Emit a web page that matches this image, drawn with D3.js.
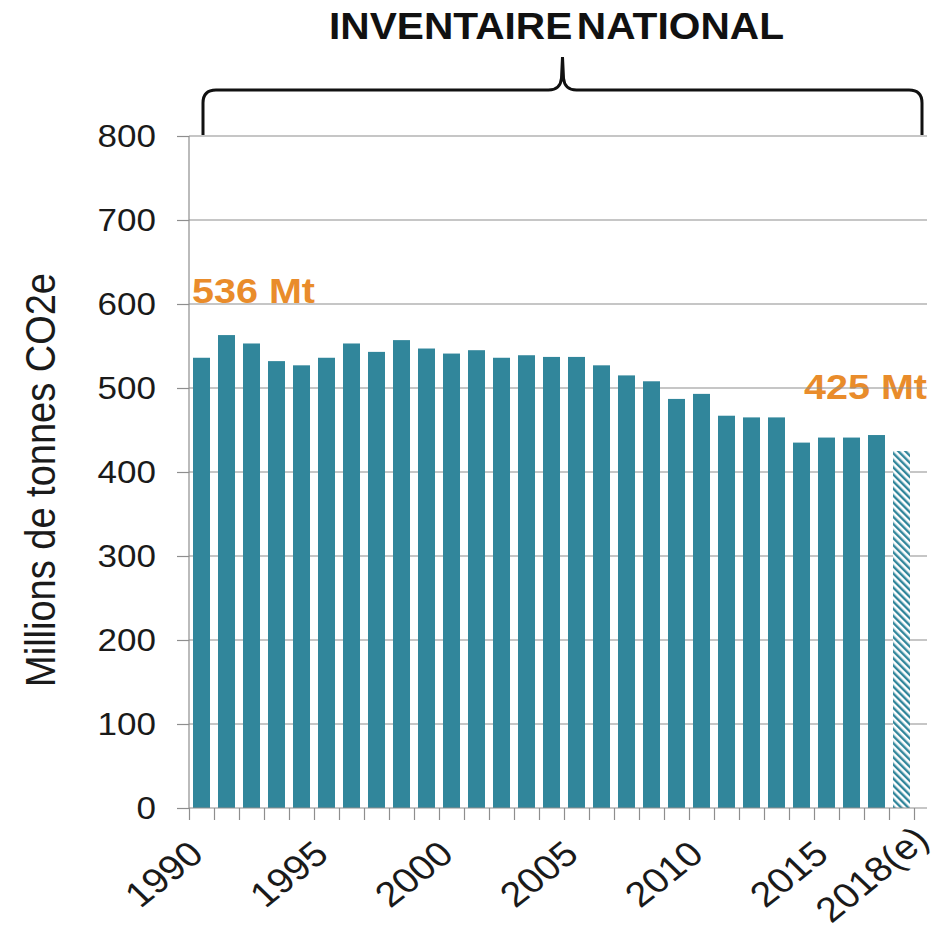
<!DOCTYPE html>
<html>
<head>
<meta charset="utf-8">
<script src="https://cdn.jsdelivr.net/npm/d3@7"></script>
<style>
  body { margin: 0; background: #fff; }
  text { font-family: "Liberation Sans", Arial, sans-serif; }
</style>
</head>
<body>
<svg id="chart"></svg>
<script>
// data
const years = d3.range(1990, 2019);
const values = [536, 563, 553, 532, 527, 536, 553, 543, 557, 547, 541, 545, 536, 539, 537,
                537, 527, 515, 508, 487, 493, 467, 465, 465, 435, 441, 441, 444, 425];
const labelYears = [1990, 1995, 2000, 2005, 2010, 2015, 2018];
const labelText = ["1990", "1995", "2000", "2005", "2010", "2015", "2018(e)"];
const yTicks = [0, 100, 200, 300, 400, 500, 600, 700, 800];
const callouts = [{ year: 1990, text: "536 Mt" }, { year: 2018, text: "425 Mt" }];

const w = 940, h = 933;
const sx = 1.13; // text in the picture is a bit stretched horizontally

const svg = d3.select('#chart')
              .attr('width', w)
              .attr('height', h);

// scales
const x = d3.scaleBand()
            .domain(years)
            .range([189, 914])
            .paddingInner(0.32)
            .paddingOuter(0.16);
const y = d3.scaleLinear()
            .domain([0, 800])
            .range([808, 136]);
const tickPos = d3.scaleLinear()
            .domain([0, years.length])
            .range([189, 914]);

const teal = '#31869b';
const orange = '#e98c2b';
const grey = '#8e8e8e';

// hatch for estimated year
const defs = svg.append('defs');
const pat = defs.append('pattern')
    .attr('id', 'hatch')
    .attr('patternUnits', 'userSpaceOnUse')
    .attr('width', 5).attr('height', 5)
    .attr('patternTransform', 'rotate(-45)');
pat.append('rect').attr('width', 5).attr('height', 5).attr('fill', '#fff');
pat.append('rect').attr('width', 2.4).attr('height', 5).attr('fill', teal);

// callout labels (gridlines pass over them)
svg.selectAll('.callout')
   .data(callouts)
   .join('text')
     .attr('class', 'callout')
     .attr('transform', (d, i) => i === 0
        ? `translate(${x(d.year) - 1},303) scale(${sx},1)`
        : `translate(${x(d.year) + x.bandwidth() + 17},399) scale(${sx},1)`)
     .attr('text-anchor', (d, i) => i === 0 ? 'start' : 'end')
     .attr('font-size', 35)
     .attr('font-weight', 'bold')
     .attr('fill', orange)
     .text(d => d.text);

// gridlines
svg.append('g')
   .selectAll('line')
   .data(yTicks.filter(v => v > 0))
   .join('line')
     .attr('x1', 189).attr('x2', 927)
     .attr('y1', d => y(d)).attr('y2', d => y(d))
     .attr('stroke', grey).attr('stroke-width', 1.2);

// bars
svg.selectAll('.bar')
   .data(values)
   .join('rect')
     .attr('class', 'bar')
     .attr('x', (v, i) => x(years[i]))
     .attr('y', v => y(v))
     .attr('width', x.bandwidth())
     .attr('height', v => y(0) - y(v))
     .attr('fill', (v, i) => i === values.length - 1 ? 'url(#hatch)' : teal);

// y axis
const yAxis = d3.axisLeft(y).tickValues(yTicks).tickSize(12).tickFormat('');
const gy = svg.append('g').attr('transform', 'translate(189,0)').call(yAxis);
gy.selectAll('line, path').attr('stroke', grey).attr('stroke-width', 1.2);
gy.select('.domain').attr('d', `M0,${y(800)}V${y(0)}`);

svg.append('g')
   .selectAll('text')
   .data(yTicks)
   .join('text')
     .attr('transform', d => `translate(156,${y(d) + 11}) scale(${sx},1)`)
     .attr('text-anchor', 'end')
     .attr('font-size', 31)
     .attr('fill', '#1a1a1a')
     .text(d => d);

// x axis
const xAxis = d3.axisBottom(tickPos).tickValues(d3.range(years.length + 1))
                .tickSize(12).tickFormat('');
const gx = svg.append('g').attr('transform', `translate(0,${y(0)})`).call(xAxis);
gx.selectAll('line, path').attr('stroke', grey).attr('stroke-width', 1.2);
gx.select('.domain').attr('d', 'M189,0H927');

// the estimate label sits past the end of the axis in the original
const last = labelYears[labelYears.length - 1];
svg.append('g')
   .selectAll('text')
   .data(labelYears)
   .join('text')
     .attr('transform', d => d === last
        ? `translate(${x(d) + x.bandwidth() + 21},842) scale(${sx},1) rotate(-43)`
        : `translate(${x(d) + x.bandwidth() / 2 + 4},857) scale(${sx},1) rotate(-42)`)
     .attr('text-anchor', 'end')
     .attr('font-size', 35)
     .attr('fill', '#1a1a1a')
     .text((d, i) => labelText[i]);

// y title
svg.append('text')
   .attr('transform', `translate(55,480) scale(${sx},1) rotate(-90)`)
   .attr('text-anchor', 'middle')
   .attr('font-size', 38)
   .attr('fill', '#1a1a1a')
   .text('Millions de tonnes CO2e');

// brace + title
const bx0 = 203, bx1 = 922, bm = (bx0 + bx1) / 2;
svg.append('path')
   .attr('d', `M${bx0},135 L${bx0},103 Q${bx0},90 ${bx0 + 13},90 L${bm - 14},90 Q${bm - 2},90 ${bm - 1},78 L${bm},57 ` +
              `L${bm + 1},78 Q${bm + 2},90 ${bm + 14},90 L${bx1 - 13},90 Q${bx1},90 ${bx1},103 L${bx1},135`)
   .attr('fill', 'none')
   .attr('stroke', '#111')
   .attr('stroke-width', 3);

svg.append('text')
   .attr('transform', `translate(${bm - 6},39) scale(${sx},1)`)
   .attr('text-anchor', 'middle')
   .attr('font-size', 36)
   .attr('font-weight', 'bold')
   .attr('fill', '#111')
   .style('word-spacing', '-6px')
   .text('INVENTAIRE NATIONAL');
</script>
</body>
</html>
